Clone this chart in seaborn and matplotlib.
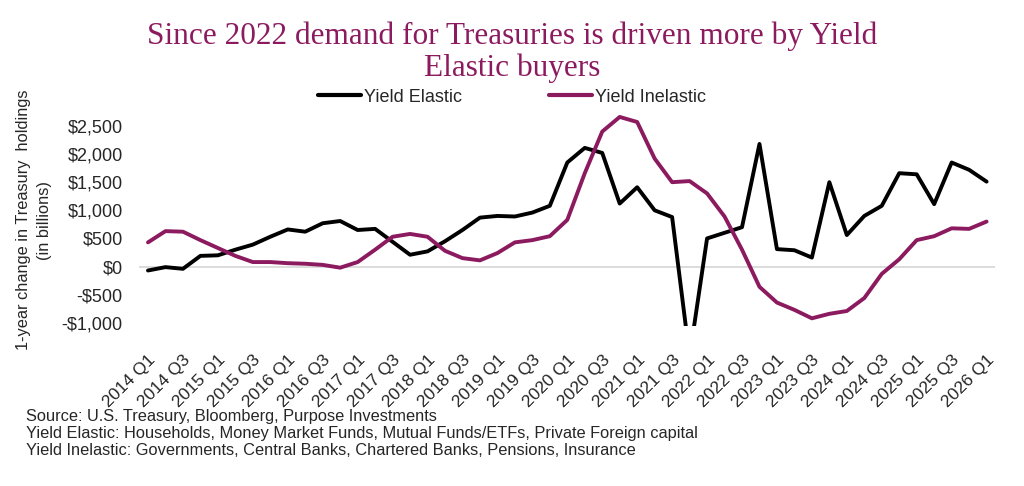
import numpy as np
import pandas as pd
import matplotlib
matplotlib.use("Agg")
import matplotlib.pyplot as plt
import seaborn as sns
from matplotlib.ticker import FuncFormatter

# quarterly periods 2014 Q1 .. 2026 Q1
quarters = [f"{y} Q{q}" for y in range(2014, 2027) for q in range(1, 5)][:49]

yield_elastic = [-70, -10, -40, 190, 200, 300, 390, 530, 660, 620,
                 770, 810, 650, 670, 440, 210, 270, 450, 650, 870,
                 900, 890, 960, 1080, 1850, 2110, 2020, 1120, 1410, 1000,
                 880, -1600, 500, 600, 700, 2180, 310, 290, 160, 1500,
                 560, 900, 1080, 1660, 1640, 1110, 1850, 1720, 1510]

yield_inelastic = [430, 630, 620, 470, 330, 190, 80, 80, 60, 50,
                   30, -20, 80, 300, 530, 580, 530, 280, 150, 110,
                   240, 430, 470, 540, 830, 1660, 2400, 2660, 2570, 1920,
                   1500, 1520, 1300, 890, 300, -360, -640, -770, -920, -840,
                   -790, -560, -130, 130, 470, 540, 680, 670, 800]

series_names = ["Yield Elastic", "Yield Inelastic"]
colors = ["#000000", "#8C1A5F"]

df = pd.DataFrame({
    "idx": list(range(len(quarters))) * 2,
    "value": yield_elastic + yield_inelastic,
    "series": [series_names[0]] * len(quarters) + [series_names[1]] * len(quarters),
})

sns.set_style("white")
plt.rcParams["font.family"] = ["Liberation Sans", "DejaVu Sans"]

fig = plt.figure(figsize=(10.24, 4.86), dpi=100)
ax = fig.add_axes([0.136, 0.33, 0.836, 0.434])

ax.axhline(0, color="#d9d9d9", lw=1.3, zorder=0)
sns.lineplot(data=df, x="idx", y="value", hue="series",
             palette=dict(zip(series_names, colors)), lw=2.8, ax=ax,
             legend=False)

ax.set_xlim(-0.5, len(quarters) - 0.5)
ax.set_ylim(-1050, 2700)
ax.set_yticks(np.arange(-1000, 2501, 500))
ax.yaxis.set_major_formatter(FuncFormatter(
    lambda v, p: f"-${abs(v):,.0f}" if v < 0 else f"${v:,.0f}"))
ax.set_xticks(range(0, len(quarters), 2))
ax.set_xticklabels(quarters[::2], rotation=45, ha="right",
                   rotation_mode="anchor")
ax.tick_params(axis="x", labelsize=12.5, length=0, pad=19)
ax.tick_params(axis="y", labelsize=13, length=0, pad=12)
for s in ax.spines.values():
    s.set_visible(False)

ax.set_xlabel("")
ax.set_ylabel("1-year change in Treasury  holdings\n(in billions)",
              fontsize=11.8, linespacing=1.5)
ax.yaxis.set_label_coords(-0.102, 0.5)

# legend
handles = [plt.Line2D([], [], color=c, lw=3) for c in colors]
fig.legend(handles, series_names, loc="center", bbox_to_anchor=(0.5, 0.8),
           ncol=2, frameon=False, fontsize=13, handlelength=2.4,
           handletextpad=0.15, columnspacing=4.8)

fig.text(0.5, 0.893, "Since 2022 demand for Treasuries is driven more by Yield\nElastic buyers",
         ha="center", va="center", fontsize=22.5, color="#8C1A5F",
         family=["Liberation Serif", "DejaVu Serif"], linespacing=1.13)

fig.text(0.025, 0.108,
         "Source: U.S. Treasury, Bloomberg, Purpose Investments\n"
         "Yield Elastic: Households, Money Market Funds, Mutual Funds/ETFs, Private Foreign capital\n"
         "Yield Inelastic: Governments, Central Banks, Chartered Banks, Pensions, Insurance",
         ha="left", va="center", fontsize=11.8, linespacing=1.18)

fig.savefig("out.png", dpi=100)
